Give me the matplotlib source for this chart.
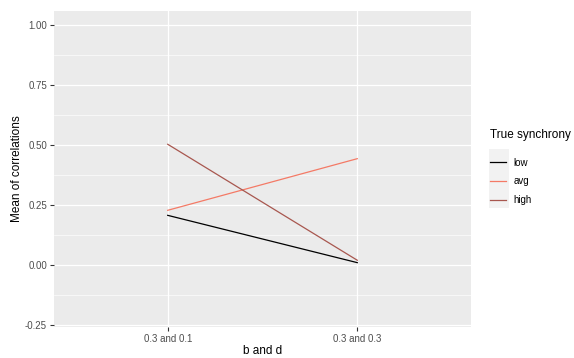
import matplotlib
matplotlib.use("Agg")
import matplotlib.pyplot as plt
from matplotlib.ticker import MultipleLocator
from matplotlib.patches import Rectangle

categories = ["0.3 and 0.1", "0.3 and 0.3"]
groups = ["low", "avg", "high"]
low = [0.207, 0.010]
avg = [0.228, 0.443]
high = [0.503, 0.020]
colors = {"low": "#000000", "avg": "#F47A66", "high": "#A8574F"}
yticks = [-0.25, 0.00, 0.25, 0.50, 0.75, 1.00]

plt.rcParams['font.family'] = ['Liberation Sans', 'DejaVu Sans']

W, H = 574, 358
fig = plt.figure(figsize=(W/100, H/100), dpi=100)
ax = fig.add_axes([54/W, 1-327/H, (471-54)/W, (327-11)/H])
ax.set_facecolor("#EBEBEB")
for s in ax.spines.values():
    s.set_visible(False)

x = list(range(1, len(categories)+1))
series = {"low": low, "avg": avg, "high": high}
for g in groups:
    ax.plot(x, series[g], color=colors[g], lw=0.9, label=g, zorder=3)

ax.set_xlim(0.4, 2.6)
ax.set_ylim(-0.258, 1.058)
ax.set_xticks(x)
ax.set_xticklabels(categories)
ax.set_yticks(yticks)
ax.set_yticklabels([f"{v:.2f}" for v in yticks])
ax.yaxis.set_minor_locator(MultipleLocator(0.125))
ax.grid(True, which="major", color="white", lw=0.9, zorder=0)
ax.grid(True, which="minor", axis="y", color="white", lw=0.45, zorder=0)
ax.set_axisbelow(True)
ax.tick_params(axis="both", which="major", colors="#333333", labelcolor="#4D4D4D",
               labelsize=7, length=3, width=0.8, pad=2)
ax.tick_params(axis="y", which="minor", length=0)
ax.set_xlabel("b and d", fontsize=8.5, color="black", labelpad=1)
ax.set_ylabel("Mean of correlations", fontsize=8.5, color="black")
ax.yaxis.set_label_coords((23-54)/417, 0.5)

leg = fig.legend(loc="upper left", bbox_to_anchor=(486/W, 1-125/H),
                 title="True synchrony", frameon=False, fontsize=7,
                 title_fontsize=8.5, handlelength=1.7, handletextpad=0.75,
                 labelspacing=0.9, borderaxespad=0)
leg._legend_box.align = "left"
leg._legend_box.sep = 12
for line in leg.get_lines():
    line.set_linewidth(0.9)

fig.patches.append(Rectangle((489/W, 1-208/H), 20/W, 59/H, transform=fig.transFigure,
                             facecolor="#F2F2F2", edgecolor="none", zorder=0))

fig.savefig("out.png", dpi=100)
